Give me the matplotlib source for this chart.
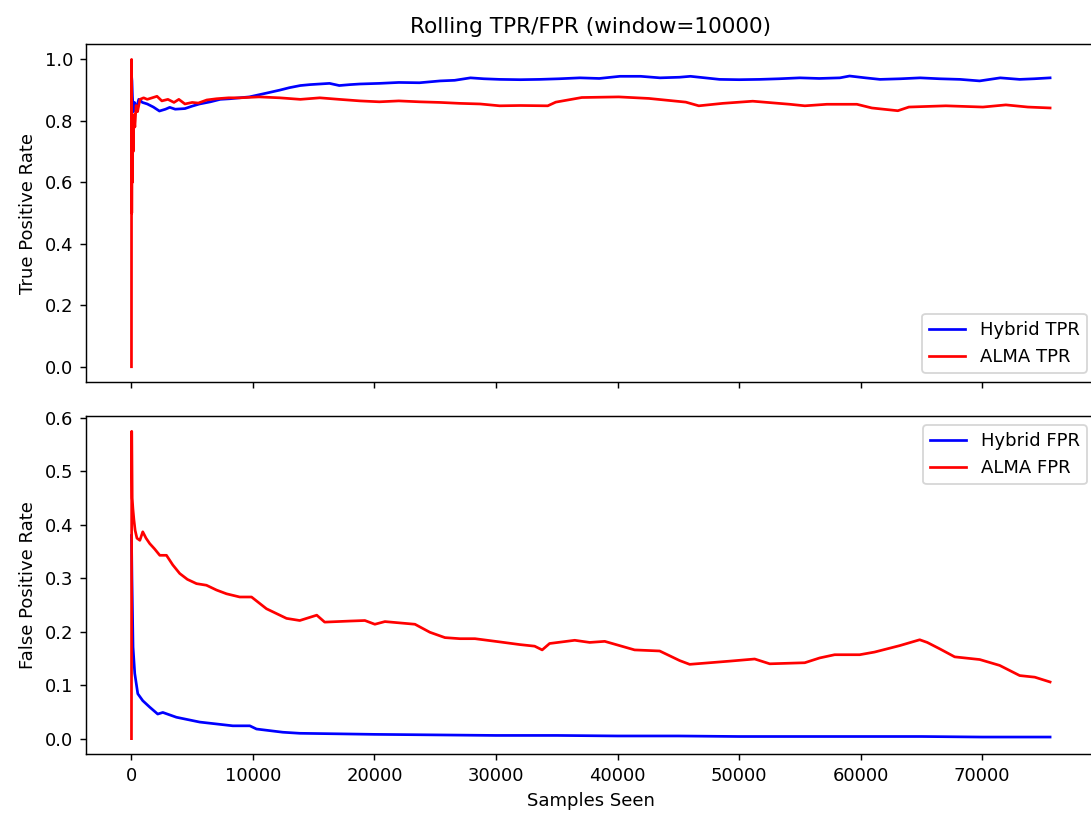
import numpy as np
import matplotlib as mpl
mpl.use('Agg')
import matplotlib.pyplot as plt

# values
# TPR panel
hyb_tpr_x = [0, 40, 80, 150, 250, 400, 600, 900, 1300, 1800, 2300, 2800, 3150,
             3600, 4400, 5000, 5600, 6500, 7300, 8100, 8900, 9700, 10500, 11300,
             12200, 13000, 13900, 14700, 15500, 16300, 17100, 18000, 18800,
             20400, 22000, 23700, 25400, 26600, 27900, 29000, 30300, 32000,
             33600, 35200, 36900, 38500, 40200, 41900, 43500, 45100, 46000,
             47200, 48400, 50000, 51700, 53300, 55000, 56600, 58300, 59100,
             60400, 61600, 63300, 64900, 66500, 68200, 69800, 71500, 73100,
             74300, 75600]
hyb_tpr_y = [0.95, 0.93, 0.88, 0.83, 0.86, 0.84, 0.87, 0.86, 0.855, 0.845, 0.832,
             0.838, 0.844, 0.838, 0.84, 0.848, 0.855, 0.862, 0.87, 0.872, 0.875,
             0.878, 0.885, 0.892, 0.90, 0.908, 0.915, 0.918, 0.92, 0.922, 0.915,
             0.918, 0.92, 0.922, 0.925, 0.924, 0.93, 0.932, 0.94, 0.937, 0.935,
             0.934, 0.935, 0.937, 0.94, 0.938, 0.945, 0.945, 0.94, 0.942, 0.945,
             0.94, 0.935, 0.934, 0.935, 0.937, 0.94, 0.938, 0.94, 0.946, 0.94,
             0.935, 0.937, 0.94, 0.937, 0.935, 0.93, 0.94, 0.935, 0.937, 0.94]

alma_tpr_x = [0, 10, 25, 45, 70, 100, 140, 200, 280, 380, 500, 700, 1000, 1300,
              1700, 2100, 2500, 3000, 3500, 3900, 4400, 5000, 5500, 6200, 7000,
              8000, 8900, 10500, 12200, 13900, 15500, 17100, 18800, 20400,
              22000, 23700, 25400, 27000, 28700, 30300, 32000, 34260, 34920,
              37060, 40100, 42580, 45620, 46690, 48660, 51130, 54180, 55420,
              57230, 59700, 60930, 63070, 63980, 67020, 70070, 71960, 73770,
              75600]
alma_tpr_y = [0.0, 1.0, 0.5, 0.75, 0.6, 0.78, 0.7, 0.82, 0.78, 0.85, 0.83, 0.87,
              0.875, 0.87, 0.875, 0.88, 0.865, 0.87, 0.86, 0.87, 0.855, 0.86,
              0.858, 0.868, 0.872, 0.875, 0.875, 0.878, 0.875, 0.87, 0.875,
              0.87, 0.865, 0.862, 0.865, 0.862, 0.86, 0.857, 0.855, 0.849,
              0.85, 0.849, 0.861, 0.876, 0.878, 0.873, 0.861, 0.849, 0.857,
              0.864, 0.854, 0.849, 0.854, 0.854, 0.842, 0.833, 0.845, 0.849,
              0.845, 0.852, 0.845, 0.842]

# FPR panel
hyb_fpr_x = [0, 40, 130, 270, 520, 930, 1500, 2160, 2580, 3700, 5620, 8340,
             9740, 10290, 12450, 13850, 17000, 20000, 25000, 30000, 35000,
             40000, 45000, 50000, 55000, 60000, 65000, 70000, 75600]
hyb_fpr_y = [0.38, 0.3, 0.171, 0.122, 0.084, 0.071, 0.059, 0.046, 0.049, 0.040,
             0.031, 0.024, 0.024, 0.018, 0.012, 0.010, 0.009, 0.008, 0.007,
             0.006, 0.006, 0.005, 0.005, 0.004, 0.004, 0.004, 0.004, 0.003,
             0.003]

alma_fpr_x = [0, 20, 60, 120, 200, 300, 450, 690, 930, 1200, 1500, 1900, 2330,
              2880, 3400, 3970, 4600, 5350, 6170, 7000, 7820, 8910, 9880,
              11110, 12760, 13850, 15250, 15900, 17980, 19210, 20030, 20860,
              23330, 24560, 25800, 27030, 28270, 30300, 31950, 33180, 33800,
              34410, 36480, 37710, 38950, 40180, 41410, 43470, 45120, 45940,
              49230, 51290, 52530, 55410, 56640, 57870, 59930, 61160, 63220,
              64870, 65490, 66520, 67750, 69810, 71450, 73100, 74340, 75600]
alma_fpr_y = [0.0, 0.575, 0.45, 0.43, 0.41, 0.39, 0.375, 0.371, 0.387, 0.375,
              0.365, 0.355, 0.343, 0.343, 0.325, 0.309, 0.298, 0.290, 0.287,
              0.278, 0.271, 0.265, 0.265, 0.243, 0.225, 0.221, 0.231, 0.218,
              0.220, 0.221, 0.214, 0.219, 0.214, 0.199, 0.189, 0.187, 0.187,
              0.181, 0.176, 0.173, 0.166, 0.178, 0.184, 0.180, 0.182, 0.174,
              0.166, 0.164, 0.146, 0.139, 0.145, 0.149, 0.140, 0.142, 0.151,
              0.157, 0.157, 0.162, 0.174, 0.185, 0.180, 0.168, 0.153, 0.148,
              0.137, 0.118, 0.115, 0.106]

# 1091x817 px at 130 dpi
fig, axes = plt.subplots(2, 1, sharex=True, figsize=(1091/130, 817/130), dpi=130)

axes[0].plot(hyb_tpr_x, hyb_tpr_y, color='blue', label='Hybrid TPR')
axes[0].plot(alma_tpr_x, alma_tpr_y, color='red', label='ALMA TPR')
axes[0].set_ylabel('True Positive Rate')
axes[0].set_title('Rolling TPR/FPR (window=10000)')
axes[0].legend(loc='lower right')

axes[1].plot(hyb_fpr_x, hyb_fpr_y, color='blue', label='Hybrid FPR')
axes[1].plot(alma_fpr_x, alma_fpr_y, color='red', label='ALMA FPR')
axes[1].set_ylabel('False Positive Rate')
axes[1].set_xlabel('Samples Seen')
axes[1].legend(loc='upper right')

# right edge of the axes falls just outside the picture, as in the reference
plt.subplots_adjust(left=0.0784, right=1.0046, top=0.9461, bottom=0.0771,
                    hspace=0.1)

plt.savefig('out.png', dpi=130)
